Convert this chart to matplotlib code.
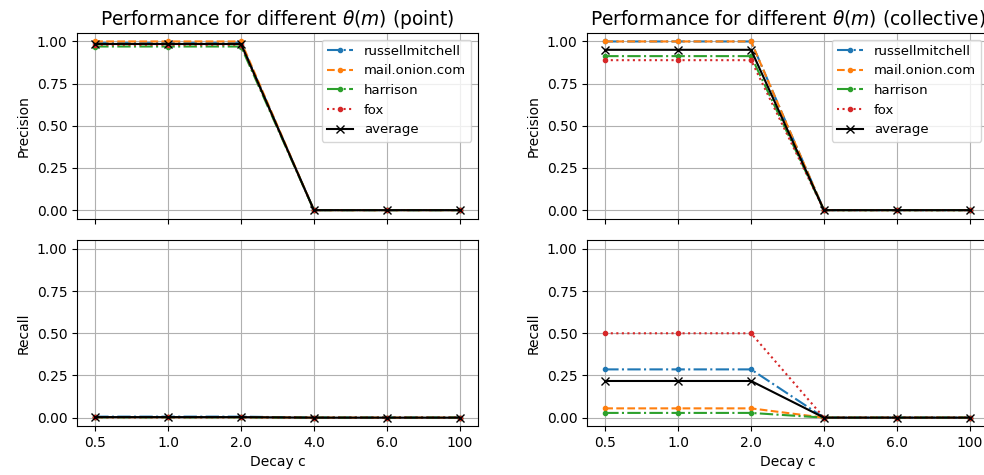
import matplotlib
matplotlib.use("Agg")
import matplotlib.pyplot as plt
import numpy as np

decay_labels = ["0.5", "1.0", "2.0", "4.0", "6.0", "100"]
series_names = ["russellmitchell", "mail.onion.com", "harrison", "fox"]

point_precision = {
    "russellmitchell": [0.99, 0.99, 0.99, 0.0, 0.0, 0.0],
    "mail.onion.com": [1.0, 1.0, 1.0, 0.0, 0.0, 0.0],
    "harrison": [0.97, 0.97, 0.97, 0.0, 0.0, 0.0],
    "fox": [0.98, 0.98, 0.98, 0.0, 0.0, 0.0],
}
point_recall = {
    "russellmitchell": [0.006, 0.006, 0.006, 0.0, 0.0, 0.0],
    "mail.onion.com": [0.003, 0.003, 0.003, 0.0, 0.0, 0.0],
    "harrison": [0.002, 0.002, 0.002, 0.0, 0.0, 0.0],
    "fox": [0.002, 0.002, 0.002, 0.0, 0.0, 0.0],
}
coll_precision = {
    "russellmitchell": [1.0, 1.0, 1.0, 0.0, 0.0, 0.0],
    "mail.onion.com": [1.0, 1.0, 1.0, 0.0, 0.0, 0.0],
    "harrison": [0.913, 0.913, 0.913, 0.0, 0.0, 0.0],
    "fox": [0.889, 0.889, 0.889, 0.0, 0.0, 0.0],
}
coll_recall = {
    "russellmitchell": [0.286, 0.286, 0.286, 0.0, 0.0, 0.0],
    "mail.onion.com": [0.055, 0.055, 0.055, 0.0, 0.0, 0.0],
    "harrison": [0.028, 0.028, 0.028, 0.0, 0.0, 0.0],
    "fox": [0.5, 0.5, 0.5, 0.0, 0.0, 0.0],
}

styles = {
    "russellmitchell": dict(color="C0", linestyle="-."),
    "mail.onion.com": dict(color="C1", linestyle="--"),
    "harrison": dict(color="C2", linestyle="-."),
    "fox": dict(color="C3", linestyle=":"),
}

fig = plt.figure(figsize=(9.84, 4.75), dpi=100)
fig.subplots_adjust(left=77/984, right=988/984, bottom=0.103, top=0.9305,
                    wspace=0.272, hspace=0.118)
axes = fig.subplots(2, 2, sharex=True)

x = np.arange(len(decay_labels))

def draw(ax, data, legend=False):
    for name in series_names:
        ax.plot(x, data[name], marker=".", label=name, **styles[name])
    avg = np.mean([data[n] for n in series_names], axis=0)
    ax.plot(x, avg, color="black", marker="x", linestyle="-", label="average")
    ax.set_ylim(-0.05, 1.05)
    ax.set_yticks([0, 0.25, 0.5, 0.75, 1.0])
    ax.grid(True)
    if legend:
        ax.legend(loc="upper right", fontsize=9.5)

draw(axes[0, 0], point_precision, legend=True)
draw(axes[1, 0], point_recall)
draw(axes[0, 1], coll_precision, legend=True)
draw(axes[1, 1], coll_recall)

axes[0, 0].set_title(r"Performance for different $\theta(m)$ (point)", fontsize=13.4)
axes[0, 1].set_title(r"Performance for different $\theta(m)$ (collective)", fontsize=13.4)
for col in range(2):
    axes[0, col].set_ylabel("Precision")
    axes[1, col].set_ylabel("Recall")
    axes[1, col].set_xlabel("Decay c")
    axes[1, col].set_xticks(x)
    axes[1, col].set_xticklabels(decay_labels)

fig.savefig("out.png", dpi=100)
